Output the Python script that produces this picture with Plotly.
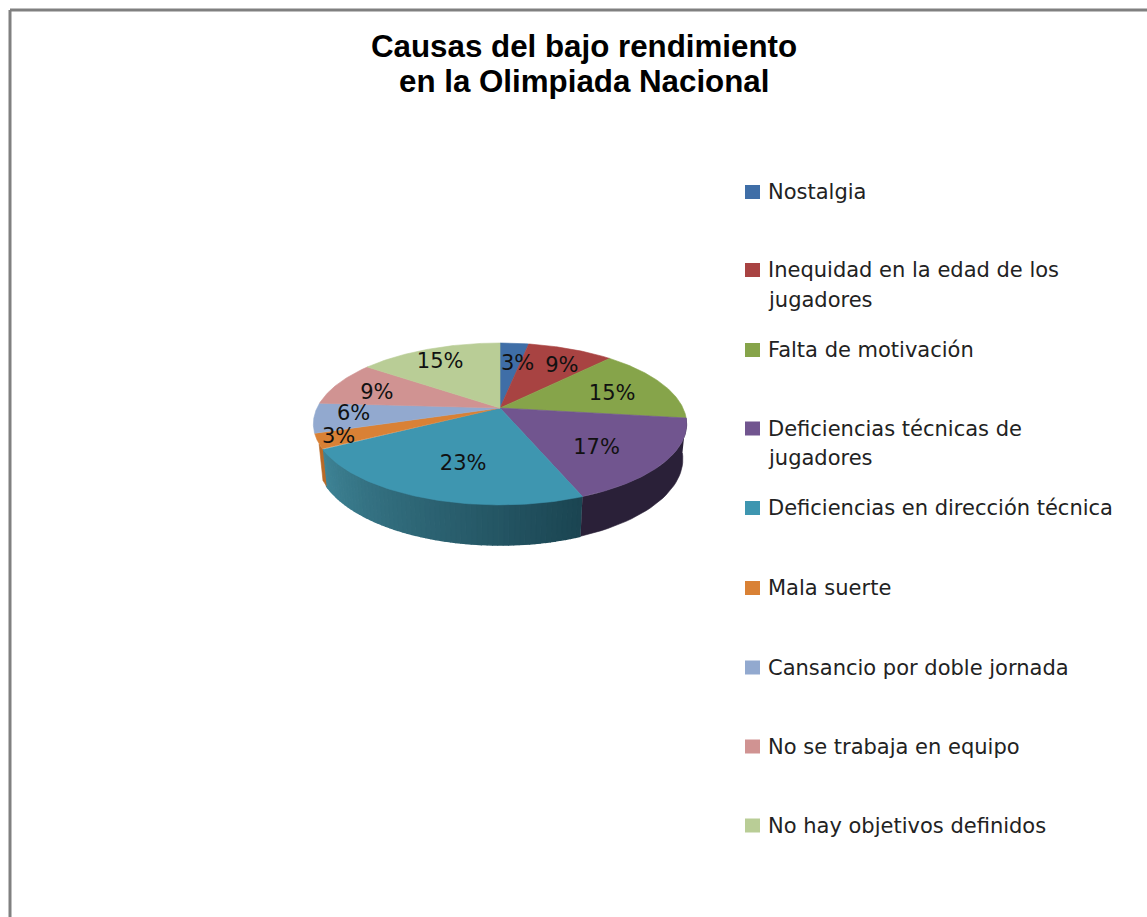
import numpy as np
import plotly.graph_objects as go

title_lines = ["Causas del bajo rendimiento", "en la Olimpiada Nacional"]
categories = ["Nostalgia", "Inequidad en la edad de los<br>jugadores", "Falta de motivación",
              "Deficiencias técnicas de<br>jugadores", "Deficiencias en dirección técnica",
              "Mala suerte", "Cansancio por doble jornada", "No se trabaja en equipo",
              "No hay objetivos definidos"]
values = [3, 9, 15, 17, 23, 3, 6, 9, 15]
colors = ["#3f6ea7", "#a84342", "#86a44a", "#71558f", "#3e96b0", "#d98135", "#92a9cf", "#d09392", "#b9cd96"]
side_dark = ["#2b4c74", "#74302f", "#5d7233", "#2a2038", "#1b4552", "#b86a28", "#65758f", "#906665", "#808e68"]
side_span = [0, 0, 0, 1, 1, 0.35, 0, 0, 0]
legend_y = [192, 270, 350, 428.5, 508, 588, 667.5, 746.5, 825.5]

# pie projection (pixel-space axes)
CX, CY, A, B, P, H, S = 500, 408, 183, 77.8, 0.197, 35, 0.02
label_r = 0.7
label_dx = [7, 10, -3, -14, 13, -37, -17, -8, -8]
label_dy = [4, 2, 4, 4, -2, 7, 0, 3, -2]


def project(theta, r=1.0, drop=0.0, shrink=0.0):
    X, Y = r * np.sin(theta), -r * np.cos(theta)
    w = 1 - P * Y + shrink
    return CX + A * X / w, CY + (B * Y + drop) / w


def hex_rgb(h):
    return np.array([int(h[i:i + 2], 16) for i in (1, 3, 5)], float)


def mix(c1, c2, t):
    c = hex_rgb(c1) * (1 - t) + hex_rgb(c2) * t
    return "rgb(%d,%d,%d)" % tuple(c)


edges = 2 * np.pi * np.concatenate([[0], np.cumsum(values)]) / sum(values)
fig = go.Figure()


def poly(x, y, color, name, lw=0.6):
    fig.add_trace(go.Scatter(x=x, y=y, mode="lines", fill="toself", fillcolor=color,
                             line=dict(color=color, width=lw), hoverinfo="skip",
                             showlegend=False, name=name))


# side walls (the gradient slice is split in thin strips)
for i, (t0, t1) in enumerate(zip(edges[:-1], edges[1:])):
    if side_span[i] == 0:
        continue
    t1 = t0 + (t1 - t0) * side_span[i]
    n = 60 if i == 4 else 1
    cuts = np.linspace(t0, t1, n + 1)
    for k in range(n):
        th = np.linspace(cuts[k], cuts[k + 1], 30 if n == 1 else 4)
        xa, ya = project(th)
        xb, yb = project(th[::-1], drop=H, shrink=S)
        col = mix("#3f8496", side_dark[i], 1 - k / (n - 1)) if n > 1 else side_dark[i]
        poly(np.r_[xa, xb], np.r_[ya, yb], col, "side", lw=1.5 if n > 1 else 0.6)

# top faces
for i, (t0, t1) in enumerate(zip(edges[:-1], edges[1:])):
    th = np.linspace(t0, t1, 80)
    xa, ya = project(th)
    poly(np.r_[CX, xa, CX], np.r_[CY, ya, CY], colors[i], categories[i].replace("<br>", " "))

# percent labels
mid = (edges[:-1] + edges[1:]) / 2
lx, ly = project(mid, r=label_r)
fig.add_trace(go.Scatter(x=lx + np.array(label_dx), y=ly + np.array(label_dy), mode="text",
                         text=[f"{v}%" for v in values], textposition="middle center",
                         textfont=dict(family="DejaVu Sans", size=21, color="#111111"),
                         hoverinfo="skip", showlegend=False))

shapes = [
    dict(type="line", xref="x", yref="y", x0=10, x1=1147, y0=10, y1=10, line=dict(color="#808080", width=3)),
    dict(type="line", xref="x", yref="y", x0=10, x1=10, y0=10, y1=917, line=dict(color="#808080", width=3)),
]
annotations = []
for j, line in enumerate(title_lines):
    annotations.append(dict(x=584, y=46 + j * 35, xref="x", yref="y", text=f"<b>{line}</b>", showarrow=False,
                            xanchor="center", yanchor="middle",
                            font=dict(family="Liberation Sans", size=31.3, color="#000000")))
for c, col, y in zip(categories, colors, legend_y):
    shapes.append(dict(type="rect", xref="x", yref="y", x0=745, x1=760, y0=y - 7, y1=y + 7,
                       fillcolor=col, line=dict(width=0)))
    for j, line in enumerate(c.split("<br>")):
        annotations.append(dict(x=765.5, y=y + j * 29.5, xref="x", yref="y", text=line, showarrow=False,
                                xanchor="left", yanchor="middle",
                                font=dict(family="DejaVu Sans", size=21, color="#222222")))

fig.update_layout(width=1147, height=917, margin=dict(l=0, r=0, t=0, b=0), autosize=False,
                  paper_bgcolor="white", plot_bgcolor="white", shapes=shapes, annotations=annotations,
                  xaxis=dict(range=[0, 1147], visible=False, fixedrange=True),
                  yaxis=dict(range=[917, 0], visible=False, fixedrange=True),
                  showlegend=False)
fig.write_html("out.html", config={"displayModeBar": False},
               post_script="document.body.style.margin='0';document.body.style.overflow='hidden';")
